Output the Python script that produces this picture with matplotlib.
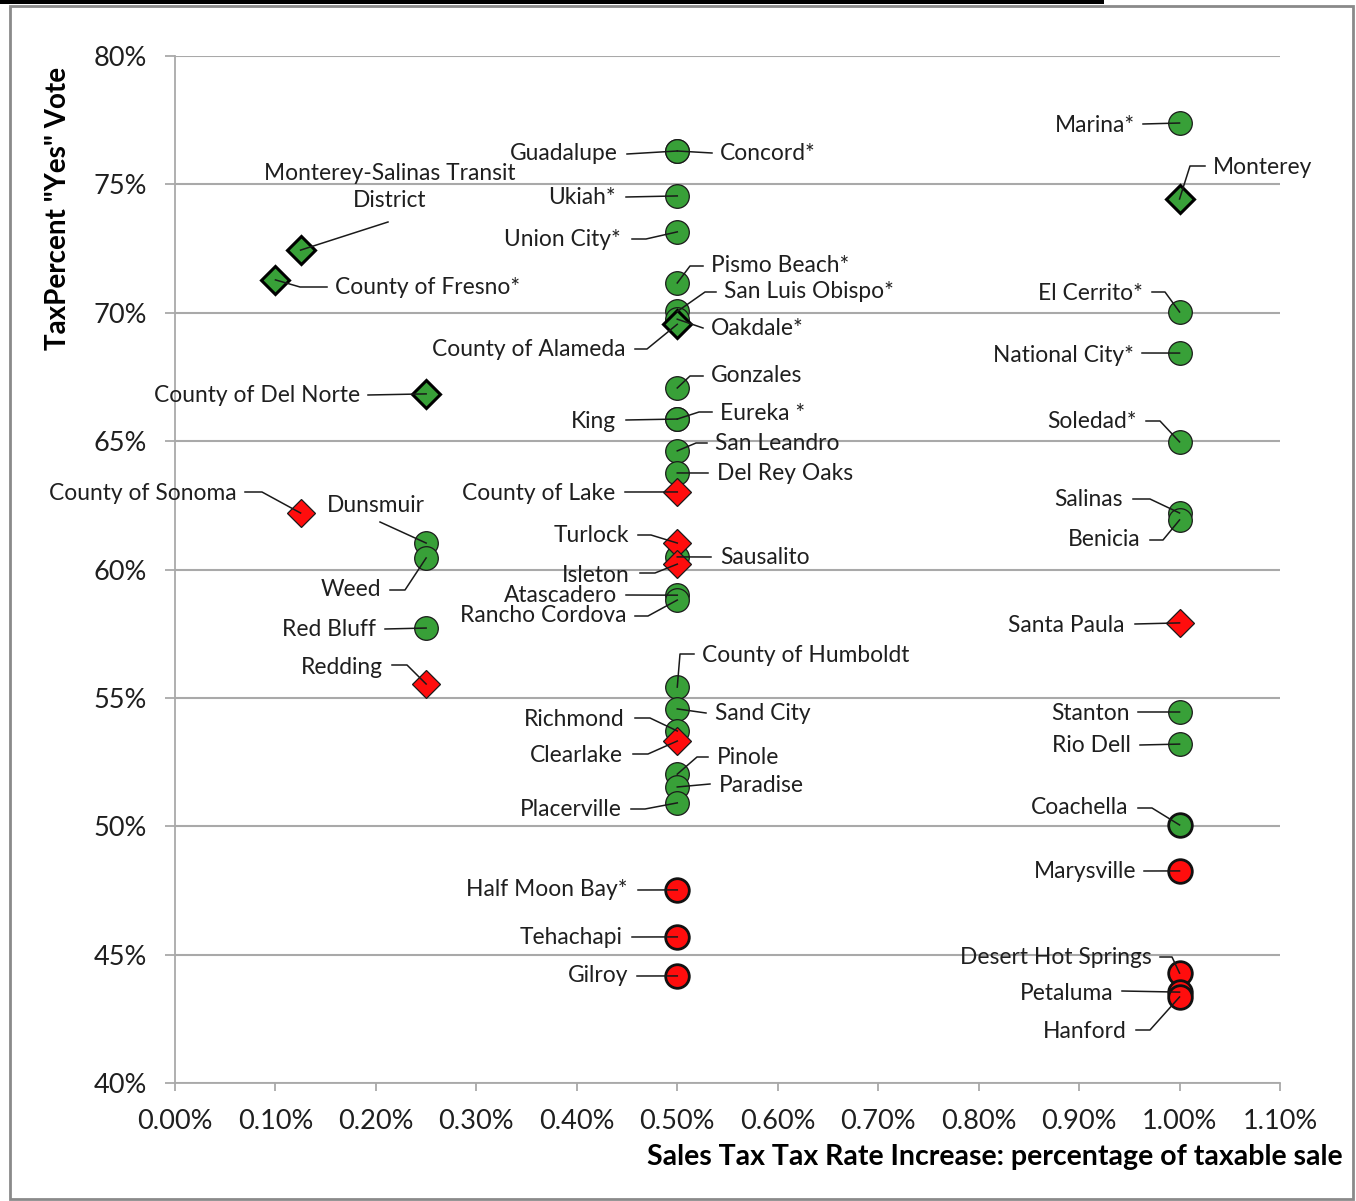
import matplotlib
matplotlib.use('Agg')
import matplotlib.pyplot as plt
from matplotlib.lines import Line2D
from matplotlib.patches import Rectangle
from matplotlib.ticker import FuncFormatter, MultipleLocator

plt.rcParams['font.family'] = ['Lato', 'DejaVu Sans']

W, H = 1356, 1201

# ---- data: sales tax increase (%) vs percent "yes" vote ----
names = [
    "Monterey-Salinas Transit\nDistrict", "County of Fresno*", "County of Del Norte", "County of Sonoma",
    "Dunsmuir", "Weed", "Red Bluff", "Redding",
    "Guadalupe", "Concord*", "Ukiah*", "Union City*", "Pismo Beach*", "San Luis Obispo*",
    "Oakdale*", "County of Alameda", "Gonzales", "King", "Eureka *", "San Leandro",
    "Del Rey Oaks", "County of Lake", "Turlock", "Sausalito", "Isleton", "Atascadero",
    "Rancho Cordova", "County of Humboldt", "Sand City", "Richmond", "Clearlake", "Pinole",
    "Paradise", "Placerville", "Half Moon Bay*", "Tehachapi", "Gilroy",
    "Marina*", "Monterey", "El Cerrito*", "National City*", "Soledad*", "Salinas", "Benicia",
    "Santa Paula", "Stanton", "Rio Dell", "Coachella", "Marysville", "Desert Hot Springs",
    "Petaluma", "Hanford",
]
rate = [
    0.125, 0.10, 0.25, 0.125,
    0.25, 0.25, 0.25, 0.25,
    0.5, 0.5, 0.5, 0.5, 0.5, 0.5,
    0.5, 0.5, 0.5, 0.5, 0.5, 0.5,
    0.5, 0.5, 0.5, 0.5, 0.5, 0.5,
    0.5, 0.5, 0.5, 0.5, 0.5, 0.5,
    0.5, 0.5, 0.5, 0.5, 0.5,
    1.0, 1.0, 1.0, 1.0, 1.0, 1.0, 1.0,
    1.0, 1.0, 1.0, 1.0, 1.0, 1.0,
    1.0, 1.0,
]
yes_vote = [
    72.44, 71.28, 66.84, 62.20,
    61.03, 60.45, 57.72, 55.54,
    76.30, 76.30, 74.55, 73.15, 71.16, 70.05,
    69.75, 69.55, 67.07, 65.86, 65.86, 64.62,
    63.76, 63.02, 61.03, 60.49, 60.21, 59.00,
    58.81, 55.42, 54.57, 53.71, 53.32, 52.03,
    51.53, 50.91, 47.52, 45.69, 44.17,
    77.39, 74.43, 70.03, 68.43, 64.97, 62.20, 61.93,
    57.92, 54.45, 53.20, 50.05, 48.26, 44.28,
    43.54, 43.35,
]
outcome = [
    "pass", "pass", "pass", "fail",
    "pass", "pass", "pass", "fail",
    "pass", "pass", "pass", "pass", "pass", "pass",
    "pass", "pass", "pass", "pass", "pass", "pass",
    "pass", "fail", "fail", "pass", "fail", "pass",
    "pass", "pass", "pass", "pass", "fail", "pass",
    "pass", "pass", "fail", "fail", "fail",
    "pass", "pass", "pass", "pass", "pass", "pass", "pass",
    "fail", "pass", "pass", "pass", "fail", "fail",
    "fail", "fail",
]
group = [
    "D", "D", "D", "D",
    "C", "C", "C", "D",
    "C", "C", "C", "C", "C", "C",
    "C", "D", "C", "C", "C", "C",
    "C", "D", "D", "C", "D", "C",
    "C", "C", "C", "C", "D", "C",
    "C", "C", "C2", "C2", "C2",
    "C", "D", "C", "C", "C", "C", "C",
    "D", "C", "C", "C2", "C2", "C2",
    "C2", "C2",
]

# ---- label layout (image pixels): align, text x, text y, leader vertices ----
layout = {
    "Monterey-Salinas Transit\nDistrict": ("center", 390, 187, [(388, 222)]),
    "County of Fresno*": ("left", 335, 287, [(327, 287), (300, 287)]),
    "County of Del Norte": ("right", 360, 395, [(368, 395)]),
    "County of Sonoma": ("right", 237, 493, [(245, 492), (262, 492)]),
    "Dunsmuir": ("center", 376, 505, [(380, 522)]),
    "Weed": ("right", 381, 590, [(390, 590), (405, 590)]),
    "Red Bluff": ("right", 376, 629, [(385, 629)]),
    "Redding": ("right", 383, 667, [(392, 665), (407, 665)]),
    "Guadalupe": ("right", 618, 154, [(627, 154)]),
    "Concord*": ("left", 720, 153, [(712, 153)]),
    "Ukiah*": ("right", 616, 197, [(626, 197)]),
    "Union City*": ("right", 621, 239, [(632, 239), (646, 239)]),
    "Pismo Beach*": ("left", 711, 266, [(703, 266), (690, 266)]),
    "San Luis Obispo*": ("left", 724, 292, [(716, 292), (705, 292)]),
    "Oakdale*": ("left", 711, 328, [(703, 328)]),
    "County of Alameda": ("right", 626, 350, [(635, 349), (647, 349)]),
    "Gonzales": ("left", 711, 376, [(703, 376), (690, 376)]),
    "King": ("right", 616, 421, [(626, 420)]),
    "Eureka *": ("left", 720, 413, [(712, 412), (699, 412)]),
    "San Leandro": ("left", 715, 444, [(707, 443), (696, 443)]),
    "Del Rey Oaks": ("left", 717, 474, [(708, 473)]),
    "County of Lake": ("right", 615, 493, [(625, 492)]),
    "Turlock": ("right", 629, 536, [(638, 535), (651, 535)]),
    "Sausalito": ("left", 720, 558, [(711, 557)]),
    "Isleton": ("right", 630, 575, [(640, 573), (655, 573)]),
    "Atascadero": ("right", 617, 596, [(626, 595)]),
    "Rancho Cordova": ("right", 626, 616, [(635, 616), (648, 616)]),
    "County of Humboldt": ("left", 702, 655, [(694, 654), (680, 654)]),
    "Sand City": ("left", 715, 714, [(706, 713)]),
    "Richmond": ("right", 625, 720, [(635, 718), (650, 718)]),
    "Clearlake": ("right", 623, 755, [(633, 754), (648, 754)]),
    "Pinole": ("left", 717, 758, [(708, 757), (697, 757)]),
    "Paradise": ("left", 719, 785, [(710, 784)]),
    "Placerville": ("right", 622, 810, [(631, 809), (645, 809)]),
    "Half Moon Bay*": ("right", 628, 890, [(638, 890)]),
    "Tehachapi": ("right", 622, 938, [(632, 937)]),
    "Gilroy": ("right", 628, 976, [(637, 976)]),
    "Marina*": ("right", 1135, 125, [(1143, 124)]),
    "Monterey": ("left", 1213, 167, [(1205, 166), (1190, 166)]),
    "El Cerrito*": ("right", 1143, 293, [(1152, 292), (1165, 292)]),
    "National City*": ("right", 1134, 355, [(1142, 353)]),
    "Soledad*": ("right", 1137, 422, [(1146, 421), (1160, 421)]),
    "Salinas": ("right", 1123, 500, [(1133, 499), (1150, 499)]),
    "Benicia": ("right", 1141, 540, [(1150, 540), (1163, 540)]),
    "Santa Paula": ("right", 1125, 626, [(1135, 624)]),
    "Stanton": ("right", 1130, 713, [(1138, 712)]),
    "Rio Dell": ("right", 1131, 746, [(1140, 745)]),
    "Coachella": ("right", 1128, 808, [(1138, 808), (1152, 808)]),
    "Marysville": ("right", 1136, 871, [(1144, 871)]),
    "Desert Hot Springs": ("right", 1152, 958, [(1160, 957), (1172, 957)]),
    "Petaluma": ("right", 1114, 993, [(1122, 991)]),
    "Hanford": ("right", 1127, 1031, [(1136, 1030), (1150, 1030)]),
}

green = '#38a038'
red = '#ff0d0d'
grid_c = '#a9a9a9'
text_c = '#1f1f1f'

fig = plt.figure(figsize=(W / 100, H / 100), dpi=100)
ax = fig.add_axes([175 / W, 1 - 1083 / H, (1280 - 175) / W, (1083 - 56) / H])

# draw order: circles, thick circles, diamonds
styles = {
    "C": dict(marker='o', ms=17, mew=0.9, mec='#1a1a1a'),
    "C2": dict(marker='o', ms=17, mew=2.0, mec='#111111'),
    "D": dict(marker='D', ms=14, mew=0.9, mec='#1a1a1a'),
}
for g in ["C", "C2", "D"]:
    for res, col in [("pass", green), ("fail", red)]:
        xs = [r for r, gg, o in zip(rate, group, outcome) if gg == g and o == res]
        ys = [v for v, gg, o in zip(yes_vote, group, outcome) if gg == g and o == res]
        if not xs:
            continue
        st = dict(styles[g])
        if g == "D" and res == "pass":
            st['mew'] = 2.2
            st['mec'] = 'black'
        ax.plot(xs, ys, linestyle='none', mfc=col, zorder=3, clip_on=False, **st)

ax.set_xlim(0, 1.1)
ax.set_ylim(40, 80)
ax.xaxis.set_major_locator(MultipleLocator(0.1))
ax.yaxis.set_major_locator(MultipleLocator(5))
ax.xaxis.set_major_formatter(FuncFormatter(lambda v, p: f"{v:.2f}%"))
ax.yaxis.set_major_formatter(FuncFormatter(lambda v, p: f"{v:.0f}%"))
ax.grid(axis='y', color=grid_c, lw=1.5)
ax.set_axisbelow(True)
for s in ['top', 'right']:
    ax.spines[s].set_visible(False)
for s in ['left', 'bottom']:
    ax.spines[s].set_color(grid_c)
    ax.spines[s].set_linewidth(1.3)
ax.tick_params(axis='y', length=7, width=1.3, color=grid_c, pad=13, labelsize=19.5, labelcolor=text_c)
ax.tick_params(axis='x', length=6, width=1.3, color=grid_c, pad=13, labelsize=19.5, labelcolor=text_c)

fig.canvas.draw()

# labels and leader lines
for name, r, v in zip(names, rate, yes_vote):
    ha, tx, ty, pts = layout[name]
    fig.text(tx / W, 1 - ty / H, name, ha=ha, va='center', fontsize=16.4,
             color=text_c, linespacing=1.3, zorder=5)
    px, py = ax.transData.transform((r, v))
    xs = [p[0] / W for p in pts] + [px / W]
    ys = [1 - p[1] / H for p in pts] + [py / H]
    fig.add_artist(Line2D(xs, ys, color='#1a1a1a', lw=1.1, zorder=6))

fig.text(1343 / W, 1 - 1157 / H, "Sales Tax Tax Rate Increase: percentage of taxable sale",
         ha='right', va='center', fontsize=20.5, fontweight='bold', color='black')
fig.text(58 / W, 1 - 208 / H, 'TaxPercent "Yes" Vote', ha='center', va='center',
         rotation=90, fontsize=20, fontweight='bold', color='black')

# chart frame and clipped top rule
fig.add_artist(Rectangle((10 / W, 1 - 1199 / H), (1353 - 10) / W, (1199 - 6) / H,
                         transform=fig.transFigure, fill=False, edgecolor='#8a8a8a', lw=2))
fig.add_artist(Rectangle((0, 1 - 4 / H), 1104 / W, 4 / H, transform=fig.transFigure,
                         color='black', lw=0))

fig.savefig('out.png', dpi=100)
